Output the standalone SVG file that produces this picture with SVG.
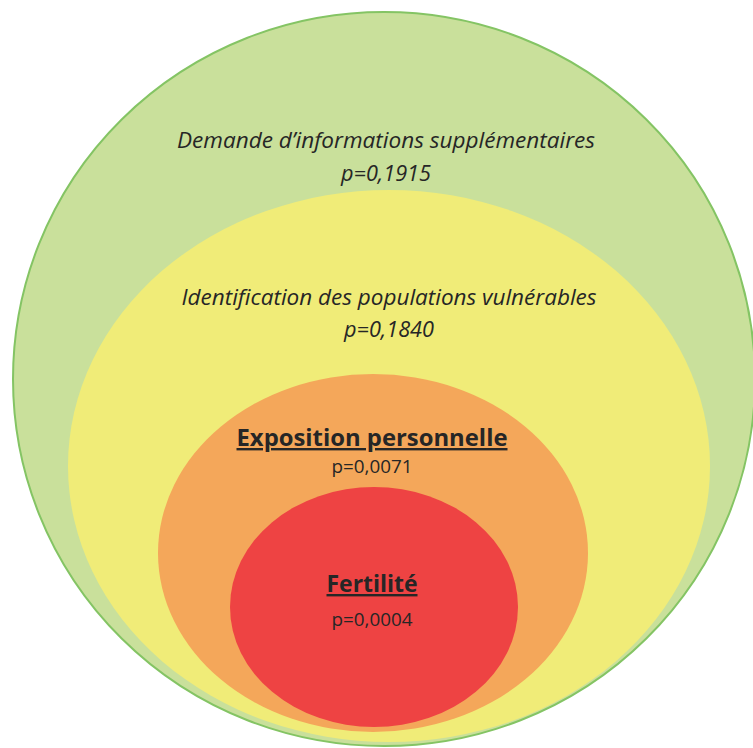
<svg xmlns="http://www.w3.org/2000/svg" width="753" height="748" viewBox="0 0 753 748">
<style>
text{font-family:"Open Sans","Liberation Sans",sans-serif;fill:#262626;text-anchor:middle}
.it{font-style:italic;font-size:21px}
.bd{font-weight:bold;font-size:24px;text-decoration:underline}
.p{font-size:19px}
</style>
<rect width="753" height="748" fill="#ffffff"/>
<g id="outer">
<ellipse cx="384" cy="379" rx="371" ry="367" fill="#c9e09b" stroke="#84c464" stroke-width="2"/>
<text class="it" x="386" y="148" textLength="418" lengthAdjust="spacingAndGlyphs">Demande d’informations supplémentaires</text>
<text class="it" x="386" y="181" textLength="90" lengthAdjust="spacingAndGlyphs">p=0,1915</text>
</g>
<g id="vulnerable">
<ellipse cx="389" cy="466" rx="321" ry="276" fill="#f0ec78"/>
<text class="it" x="389" y="305" textLength="415" lengthAdjust="spacingAndGlyphs">Identification des populations vulnérables</text>
<text class="it" x="389" y="337" textLength="90" lengthAdjust="spacingAndGlyphs">p=0,1840</text>
</g>
<g id="exposition">
<ellipse cx="373" cy="553" rx="215" ry="179" fill="#f4a75a"/>
<text class="bd" x="372" y="446" textLength="271" lengthAdjust="spacingAndGlyphs">Exposition personnelle</text>
<text class="p" x="372" y="473" textLength="81" lengthAdjust="spacingAndGlyphs">p=0,0071</text>
</g>
<g id="fertilite">
<ellipse cx="374" cy="607" rx="144" ry="120" fill="#ee4343"/>
<text class="bd" x="372" y="592" textLength="91" lengthAdjust="spacingAndGlyphs">Fertilité</text>
<text class="p" x="372" y="626" textLength="81" lengthAdjust="spacingAndGlyphs">p=0,0004</text>
</g>
<g id="connectors"/>
</svg>
